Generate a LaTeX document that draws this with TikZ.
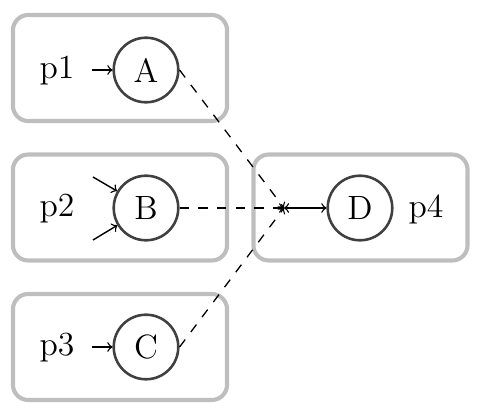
\documentclass[tikz,border=0pt]{standalone}
\definecolor{boxgray}{HTML}{BEBEBE}
\definecolor{circgray}{HTML}{404040}
\begin{document}
\begin{tikzpicture}[x=0.4274pt,y=-0.4274pt,
  every node/.style={font=\fontsize{14.4}{17}\selectfont},
  box/.style={draw=boxgray, line width=1.75pt, rounded corners=6.5pt, minimum width=91.5pt, minimum height=45.3pt, inner sep=0pt},
  place/.style={circle, draw=circgray, line width=1.1pt, minimum size=27.6pt, inner sep=0pt},
  arr/.style={->, line width=0.6pt},
  dasharr/.style={->, dash pattern=on 4pt off 4pt, line width=0.55pt}]
\useasboundingbox (0,0) rectangle (482,412);
% boxes
\node[box] (b1) at (120,68) {};
\node[box] (b2) at (120,207.5) {};
\node[box] (b3) at (120,347) {};
\node[box] (b4) at (360.5,207.5) {};
% places
\node[place] (A) at (146,70) {A};
\node[place] (B) at (146,208) {B};
\node[place] (C) at (146,347) {C};
\node[place] (D) at (360,208) {D};
% labels
\node (p1) at (57,71) {p1};
\node (p2) at (57,209) {p2};
\node (p3) at (57,348) {p3};
\node (p4) at (426,209) {p4};
% input stubs
\coordinate (a0) at (92,70);
\coordinate (c0) at (92,347);
\coordinate (b0) at (93,177);
\coordinate (b1s) at (93,240);
\draw[arr] (a0) -- (A);
\draw[arr] (c0) -- (C);
\draw[arr] (b0) -- (B);
\draw[arr] (b1s) -- (B);
% junction
\coordinate (j) at (284,208);
\draw[dasharr] (A.east) -- (j);
\draw[dasharr] (B.east) -- (j);
\draw[dasharr] (C.east) -- (j);
\draw[<->, line width=0.6pt] (j) -- (D);
\end{tikzpicture}
\end{document}
